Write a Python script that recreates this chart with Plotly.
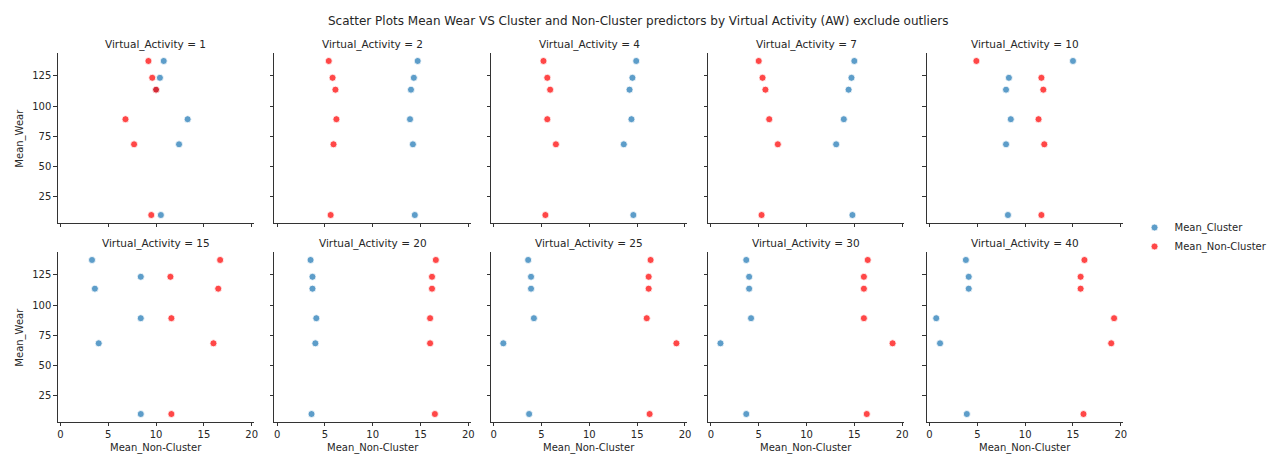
import plotly.graph_objects as go

# Facet values (Virtual_Activity) and the shared Mean_Wear levels
activity_levels = [1, 2, 4, 7, 10, 15, 20, 25, 30, 40]
mean_wear = [137.5, 123.5, 113.6, 89.0, 68.1, 9.2]

# Mean_Cluster values per facet, aligned with mean_wear
mean_cluster = [
    [10.8, 10.4, 10.0, 13.3, 12.4, 10.5],
    [14.7, 14.3, 14.0, 13.9, 14.2, 14.4],
    [14.9, 14.5, 14.2, 14.4, 13.6, 14.6],
    [15.0, 14.7, 14.4, 13.9, 13.1, 14.8],
    [15.0, 8.3, 8.0, 8.5, 8.0, 8.2],
    [3.3, 8.4, 3.6, 8.4, 4.0, 8.4],
    [3.5, 3.7, 3.7, 4.1, 4.0, 3.6],
    [3.6, 3.9, 3.9, 4.2, 1.0, 3.7],
    [3.7, 4.0, 4.0, 4.2, 1.0, 3.7],
    [3.8, 4.1, 4.1, 0.7, 1.1, 3.9],
]

# Mean_Non-Cluster values per facet, aligned with mean_wear
mean_non_cluster = [
    [9.2, 9.6, 10.0, 6.8, 7.7, 9.5],
    [5.4, 5.8, 6.1, 6.2, 5.9, 5.6],
    [5.2, 5.6, 5.9, 5.6, 6.5, 5.4],
    [5.0, 5.4, 5.7, 6.1, 7.0, 5.3],
    [4.9, 11.7, 11.9, 11.4, 12.0, 11.7],
    [16.7, 11.5, 16.5, 11.6, 16.0, 11.6],
    [16.6, 16.2, 16.2, 16.0, 16.0, 16.5],
    [16.4, 16.2, 16.2, 16.0, 19.1, 16.3],
    [16.4, 16.0, 16.0, 16.0, 19.0, 16.3],
    [16.2, 15.8, 15.8, 19.3, 19.0, 16.1],
]

x_ticks = [0, 5, 10, 15, 20]
y_ticks = [25, 50, 75, 100, 125]

W, H = 1274, 457
col_left = [57, 274.5, 492, 710, 929.5]
col_width = 197
row_top = [52.7, 251.7]
row_height = 170

BLUE = "rgba(31,119,180,0.72)"
RED = "rgba(255,0,0,0.72)"
TEXT = "#262626"
AXIS = "#333333"

fig = go.Figure()
layout = dict(
    width=W, height=H,
    margin=dict(l=0, r=0, t=0, b=0),
    paper_bgcolor="white", plot_bgcolor="white",
    font=dict(family="DejaVu Sans", size=10, color=TEXT),
    showlegend=True,
)
annotations = []

for i, act in enumerate(activity_levels):
    r, c = divmod(i, 5)
    n = i + 1
    xa = "x" if n == 1 else f"x{n}"
    ya = "y" if n == 1 else f"y{n}"
    fig.add_trace(go.Scatter(
        x=mean_cluster[i], y=mean_wear, mode="markers", name="Mean_Cluster",
        legendgroup="c", showlegend=(i == 0), xaxis=xa, yaxis=ya,
        marker=dict(size=7, color=BLUE, line=dict(color="white", width=0.8)),
    ))
    fig.add_trace(go.Scatter(
        x=mean_non_cluster[i], y=mean_wear, mode="markers", name="Mean_Non-Cluster",
        legendgroup="n", showlegend=(i == 0), xaxis=xa, yaxis=ya,
        marker=dict(size=7, color=RED, line=dict(color="white", width=0.8)),
    ))

    x0 = col_left[c] / W
    x1 = (col_left[c] + col_width) / W
    y1 = 1 - row_top[r] / H
    y0 = 1 - (row_top[r] + row_height) / H
    common = dict(
        showgrid=False, zeroline=False, showline=True, linecolor=AXIS, linewidth=1,
        ticks="outside", ticklen=3.5, tickwidth=0.8, tickcolor=AXIS,
        tickfont=dict(size=10, color=TEXT),
    )
    layout["xaxis" if n == 1 else f"xaxis{n}"] = dict(
        common, domain=[x0, x1], anchor=ya, range=[-0.28, 20.24],
        tickvals=x_ticks, showticklabels=(r == 1),
    )
    layout["yaxis" if n == 1 else f"yaxis{n}"] = dict(
        common, domain=[y0, y1], anchor=xa, range=[2.8, 144.4],
        tickvals=y_ticks, showticklabels=(c == 0),
    )
    annotations.append(dict(
        text=f"Virtual_Activity = {act}", showarrow=False,
        xref="paper", yref="paper",
        x=(col_left[c] + col_width / 2) / W, y=1 - (row_top[r] - 8.5) / H,
        xanchor="center", yanchor="middle", font=dict(size=10.5, color=TEXT),
    ))
    if c == 0:
        annotations.append(dict(
            text="Mean_Wear", showarrow=False, textangle=-90,
            xref="paper", yref="paper",
            x=19 / W, y=1 - (row_top[r] + row_height / 2) / H,
            xanchor="center", yanchor="middle", font=dict(size=10, color=TEXT),
        ))
    if r == 1:
        annotations.append(dict(
            text="Mean_Non-Cluster", showarrow=False,
            xref="paper", yref="paper",
            x=(col_left[c] + col_width / 2) / W, y=1 - 447.5 / H,
            xanchor="center", yanchor="middle", font=dict(size=10, color=TEXT),
        ))

annotations.append(dict(
    text="Scatter Plots Mean Wear VS Cluster and Non-Cluster predictors by Virtual Activity (AW) exclude outliers",
    showarrow=False, xref="paper", yref="paper",
    x=640 / W, y=1 - 21 / H, xanchor="center", yanchor="middle",
    font=dict(size=12, color=TEXT),
))

layout["annotations"] = annotations
layout["legend"] = dict(
    x=1138 / W, y=1 - 213 / H, xanchor="left", yanchor="top",
    font=dict(size=10, color=TEXT), bgcolor="rgba(0,0,0,0)",
    itemsizing="trace", tracegroupgap=0,
)
fig.update_layout(**layout)
fig.write_html("out.html")
